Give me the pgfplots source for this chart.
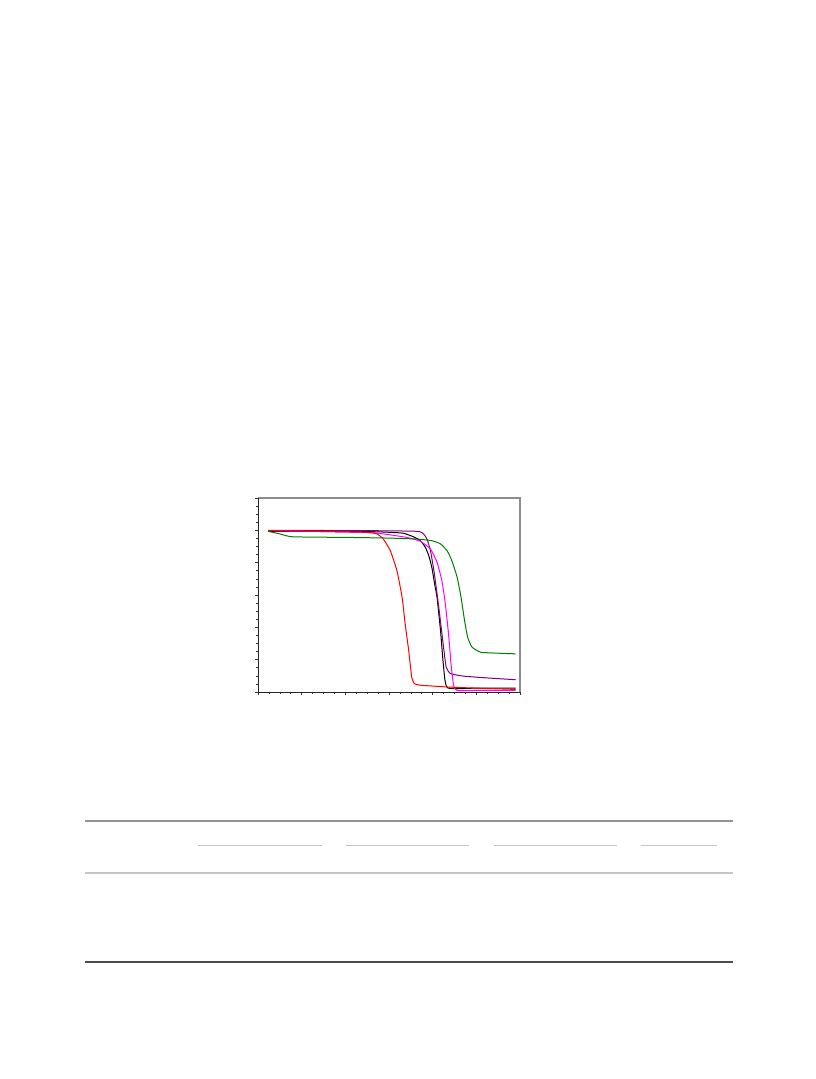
\documentclass[border=0pt]{standalone}
\usepackage{pgfplots}
\pgfplotsset{compat=1.18}
\begin{document}
\begin{tikzpicture}[x=1pt,y=1pt]
  % page area, 816 x 1079
  \path[use as bounding box,fill=white] (0,0) rectangle (816,1079);

  \begin{axis}[
    at={(258pt,387pt)},
    anchor=south west,
    scale only axis,
    width=262pt,
    height=194pt,
    xmin=0,xmax=6,ymin=0,ymax=6,
    xtick={0,...,6},
    ytick={0,...,6},
    minor x tick num=3,
    minor y tick num=3,
    xticklabels={},
    yticklabels={},
    xtick pos=lower,
    ytick pos=left,
    tick align=outside,
    major tick length=3pt,
    minor tick length=2.2pt,
    tick style={black!80,line width=0.6pt},
    axis line style={draw=none},
    clip=false]

    % black
    \addplot[black,line width=1pt,smooth,tension=0.3] coordinates {
      (0.23,4.97) (2.50,4.96) (3.00,4.94) (3.33,4.91) (3.56,4.80)
      (3.72,4.68) (3.83,4.48) (3.91,4.22) (3.98,3.86) (4.05,3.30)
      (4.10,2.93) (4.18,1.90) (4.25,0.77) (4.34,0.13) (5.00,0.12)
      (5.90,0.12)
    };
    % purple
    \addplot[color={rgb,255:red,128;green,0;blue,128},line width=1pt,smooth,tension=0.3] coordinates {
      (0.23,5.00) (2.50,4.99) (3.64,4.97) (3.79,4.89) (3.87,4.73)
      (3.95,4.37) (4.04,3.65) (4.14,2.62) (4.24,1.49) (4.31,0.77)
      (4.41,0.57) (4.71,0.49) (5.30,0.43) (5.90,0.38)
    };
    % magenta
    \addplot[color={rgb,255:red,255;green,0;blue,255},line width=1pt,smooth,tension=0.3] coordinates {
      (0.23,4.99) (2.41,4.94) (2.87,4.89) (3.41,4.78) (3.72,4.66)
      (3.95,4.42) (4.10,4.01) (4.21,3.45) (4.29,2.73) (4.37,1.70)
      (4.42,0.87) (4.48,0.21) (4.56,0.05) (5.20,0.05) (5.90,0.05)
    };
    % red
    \addplot[red,line width=1pt,smooth,tension=0.3] coordinates {
      (0.23,4.99) (2.41,4.94) (2.72,4.89) (2.87,4.73) (3.03,4.37)
      (3.18,3.76) (3.30,2.93) (3.37,2.11) (3.45,1.29) (3.52,0.46)
      (3.58,0.26) (3.72,0.21) (4.41,0.15) (5.20,0.11) (5.90,0.08)
    };
    % green
    \addplot[color={rgb,255:red,0;green,128;blue,0},line width=1pt,smooth,tension=0.3] coordinates {
      (0.23,4.97) (0.50,4.89) (0.80,4.80) (2.11,4.78) (3.00,4.76)
      (3.64,4.73) (3.98,4.68) (4.18,4.58) (4.33,4.37) (4.44,4.06)
      (4.56,3.55) (4.65,2.93) (4.73,2.21) (4.80,1.70) (4.90,1.39)
      (5.10,1.23) (5.50,1.20) (5.90,1.18)
    };

    % frame: grey top and right, dark left and bottom
    \draw[gray!90,line width=1.6pt] (rel axis cs:0,1) -- (rel axis cs:1,1) -- (rel axis cs:1,0);
    \draw[black!85,line width=0.8pt] (rel axis cs:0,1) -- (rel axis cs:0,0) -- (rel axis cs:1,0);
  \end{axis}

  % table rules below the chart
  \draw[gray!85,line width=1.2pt] (85,1079-821) -- (733,1079-821);
  \draw[gray!45,line width=0.9pt] (198,1079-845) -- (322,1079-845);
  \draw[gray!45,line width=0.9pt] (346,1079-845) -- (469,1079-845);
  \draw[gray!45,line width=0.9pt] (494,1079-845) -- (617,1079-845);
  \draw[gray!45,line width=0.9pt] (641,1079-845) -- (717,1079-845);
  \draw[gray!45,line width=1.5pt] (85,1079-873) -- (733,1079-873);
  \draw[black!70,line width=1.2pt] (85,1079-962) -- (733,1079-962);
\end{tikzpicture}
\end{document}
